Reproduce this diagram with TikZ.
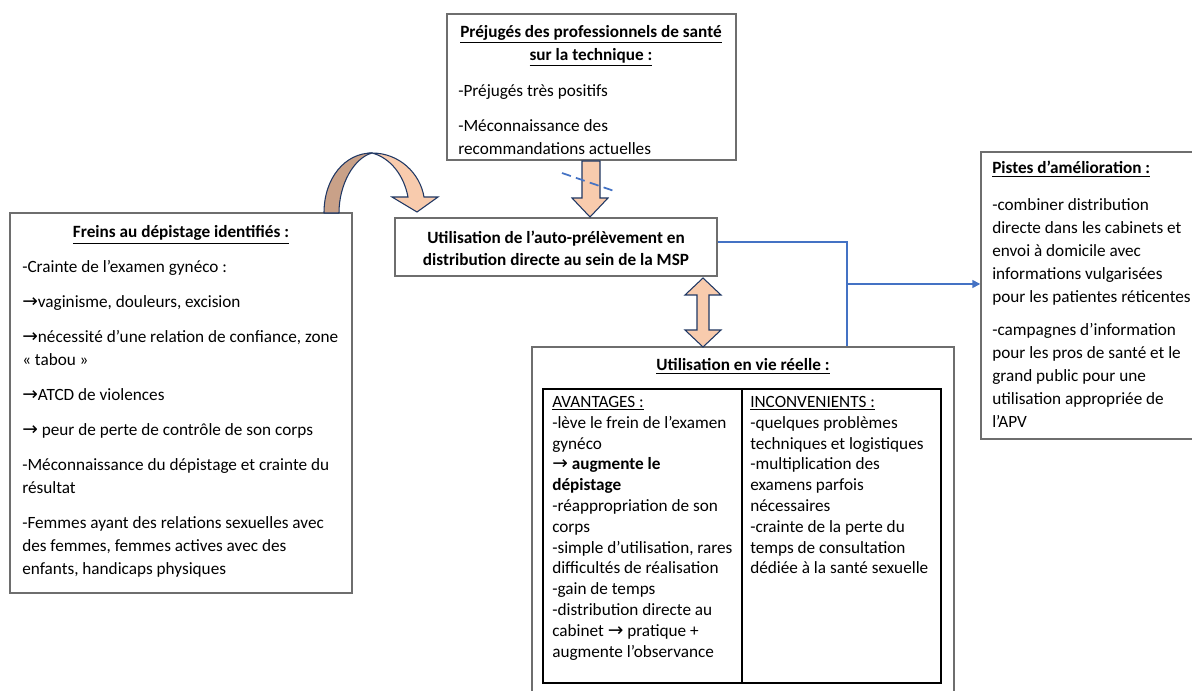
\documentclass[tikz,border=0pt]{standalone}
\usepackage{fontspec}
\setmainfont{Carlito}
\newfontfamily\symf{DejaVu Sans}
\usetikzlibrary{fit,arrows.meta}
\definecolor{peach}{HTML}{F8CBAD}
\definecolor{tanc}{HTML}{C9A188}
\definecolor{navy}{HTML}{203864}
\definecolor{lineblue}{HTML}{4472C4}
\definecolor{boxgray}{HTML}{6E6E6E}
\newcommand{\arr}{{\symf\fontsize{14}{14}\selectfont\char"2192}}
\tikzset{
  box/.style={draw=boxgray, line width=1.1pt, inner sep=0pt},
  tbl/.style={draw=black, line width=0.9pt, inner sep=0pt},
  body/.style={inner sep=0pt, align=left, anchor=north west, font=\fontsize{12.9}{17.25}\selectfont},
  tbody/.style={inner sep=0pt, align=left, anchor=north west, font=\fontsize{12.9}{15.6}\selectfont},
  title/.style={inner sep=0pt, anchor=base, font=\bfseries\fontsize{12.9}{17.25}\selectfont},
  blockarrow/.style={draw=navy, line width=0.8pt, fill=peach, line join=miter},
  connector/.style={draw=lineblue, line width=1.2pt},
}
\begin{document}
\begin{tikzpicture}[x=0.75pt, y=-0.75pt]
\clip (0,0) rectangle (1192,691);
\fill[white] (0,0) rectangle (1192,691);

% boxes
\node[box, fit={(447,14) (736,160)}] (prej) {};
\node[box, fit={(10,213) (352,593)}] (freins) {};
\node[box, fit={(395,218) (717,276)}] (util) {};
\node[box, fit={(981,152) (1200,439)}] (pistes) {};
\node[box, fit={(532,347) (954,700)}] (reel) {};
\node[tbl, fit={(543,389) (941,683)}] (table) {};
\draw[black, line width=0.9pt] (742,389) -- (742,683);

% top box text
\node[inner sep=0pt, anchor=north, align=center, font=\bfseries\fontsize{12.9}{17.25}\selectfont] (prejt) at (591,25)
  {\underline{Préjugés des professionnels de santé}\\\underline{sur la technique :}};
\node[body] (prejb) at (458,84) {-Préjugés très positifs\\[9.5pt]-Méconnaissance des\\recommandations actuelles};

% left box text
\node[title] (freinst) at (181,238) {\underline{Freins au dépistage identifiés :}};
\node[body] (freinsb) at (22,260) {-Crainte de l’examen gynéco :\\[9pt]
\arr vaginisme, douleurs, excision\\[9pt]
\arr nécessité d’une relation de confiance, zone\\
« tabou »\\[9pt]
\arr ATCD de violences\\[9pt]
\arr{} peur de perte de contrôle de son corps\\[9pt]
-Méconnaissance du dépistage et crainte du\\
résultat\\[9pt]
-Femmes ayant des relations sexuelles avec\\
des femmes, femmes actives avec des\\
enfants, handicaps physiques};

% center box text
\node[inner sep=0pt, align=center, font=\bfseries\fontsize{12.9}{16.5}\selectfont] (utilt) at (556,248)
  {Utilisation de l’auto-prélèvement en\\distribution directe au sein de la MSP};

% right box text
\node[title, anchor=base west] (pistest) at (992,174) {\underline{Pistes d’amélioration :}};
\node[body] (pistesb) at (992,198) {-combiner distribution\\
directe dans les cabinets et\\
envoi à domicile avec\\
informations vulgarisées\\
pour les patientes réticentes\\[7.5pt]
-campagnes d’information\\
pour les pros de santé et le\\
grand public pour une\\
utilisation appropriée de\\
l’APV};

% bottom box text
\node[title] (reelt) at (743,371) {\underline{Utilisation en vie réelle :}};
\node[tbody] (avant) at (552,396) {\underline{AVANTAGES :}\\
-lève le frein de l’examen\\
gynéco\\
\arr{} \textbf{augmente le}\\
\textbf{dépistage}\\
-réappropriation de son\\
corps\\
-simple d’utilisation, rares\\
difficultés de réalisation\\
-gain de temps\\
-distribution directe au\\
cabinet \arr{} pratique +\\
augmente l’observance};
\node[tbody] (incon) at (750,396) {\underline{INCONVENIENTS :}\\
-quelques problèmes\\
techniques et logistiques\\
-multiplication des\\
examens parfois\\
nécessaires\\
-crainte de la perte du\\
temps de consultation\\
dédiée à la santé sexuelle};

% down block arrow (prej -> util)
\draw[blockarrow] (582,161) -- (600,161) -- (600,198) -- (608,198) -- (590,217) -- (572,198) -- (582,198) -- cycle;
% dashed blue mark
\draw[lineblue, line width=1.3pt, dash pattern=on 7pt off 4pt] (562,173) -- (617,192);

% double block arrow (util <-> reel)
\draw[blockarrow] (703,278) -- (721,295) -- (709,295) -- (709,330) -- (721,330) -- (703,347)
  -- (685,330) -- (697,330) -- (697,295) -- (685,295) -- cycle;

% curved arrow (freins -> util)
\draw[draw=navy, line width=0.8pt, fill=tanc, line join=round]
  (324,213) .. controls (324,178) and (345,153) .. (372,153)
  .. controls (354,158) and (339,184) .. (339,213) -- cycle;
\draw[draw=navy, line width=0.8pt, fill=peach, line join=miter]
  (372,153) .. controls (399,153) and (420,173) .. (424,197)
  -- (438,197) -- (417,212) -- (392,197) -- (408,197)
  .. controls (404,176) and (391,158) .. (372,153) -- cycle;

% blue connector util -> reel and -> pistes
\coordinate (j1) at (847,242);
\coordinate (j2) at (847,284);
\draw[connector] (util.east |- j1) -- (j1) -- (j1 |- reel.north);
\draw[connector, -{Triangle[length=6pt, width=6pt]}] (j2) -- (pistes.west |- j2);
\end{tikzpicture}
\end{document}
